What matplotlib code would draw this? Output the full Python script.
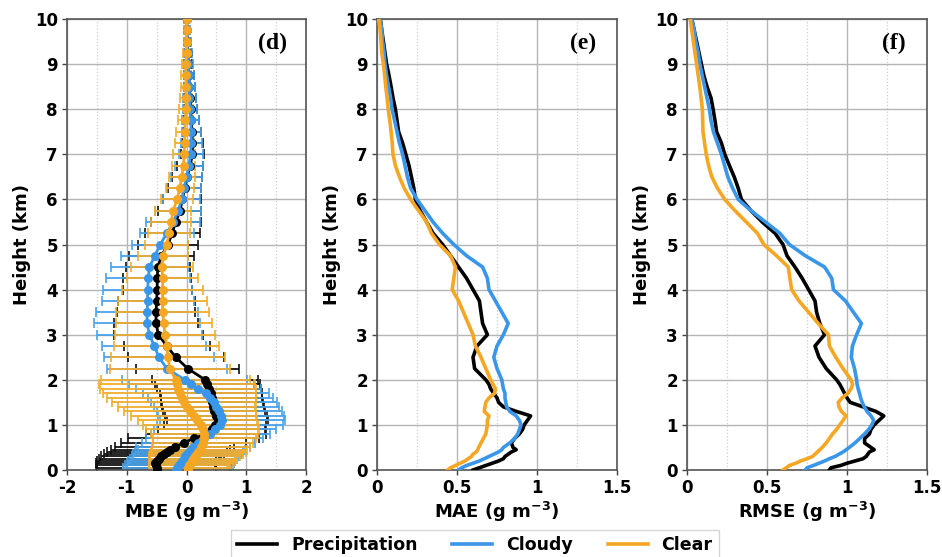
import matplotlib
matplotlib.use("Agg")
import matplotlib.pyplot as plt
from matplotlib.lines import Line2D
from matplotlib.ticker import MultipleLocator

plt.rcParams['font.family'] = ['DejaVu Sans']
plt.rcParams['axes.unicode_minus'] = False
plt.rcParams['mathtext.default'] = 'bf'

# Height levels (km)
heights = [0.0, 0.05, 0.1, 0.15, 0.2, 0.25, 0.3, 0.35, 0.4, 0.45, 0.5,
           0.6, 0.7, 0.8, 0.9, 1.0, 1.1, 1.2, 1.3, 1.4, 1.5, 1.6, 1.7, 1.8, 1.9, 2.0,
           2.25, 2.5, 2.75, 3.0, 3.25, 3.5, 3.75, 4.0, 4.25, 4.5, 4.75, 5.0,
           5.25, 5.5, 5.75, 6.0, 6.25, 6.5, 6.75, 7.0, 7.25, 7.5, 7.75, 8.0,
           8.25, 8.5, 8.75, 9.0, 9.25, 9.5, 9.75, 10.0]

categories = ['Precipitation', 'Cloudy', 'Clear']
colors = ['#000000', '#3a96e8', '#f5a623']
bar_colors = ['#111111', '#4aa3ea', '#f3ad2c']

# MBE (g m^-3)
mbe_precip = [-0.50, -0.50, -0.51, -0.52, -0.50, -0.46, -0.43, -0.38, -0.33, -0.27, -0.20,
              -0.05, 0.12, 0.33, 0.42, 0.48, 0.52, 0.49, 0.46, 0.44, 0.43, 0.42, 0.41, 0.38, 0.35, 0.31,
              0.02, -0.18, -0.33, -0.47, -0.51, -0.51, -0.50, -0.49, -0.49, -0.48, -0.42, -0.31,
              -0.24, -0.18, -0.11, -0.07, -0.03, 0.01, 0.06, 0.10, 0.10, 0.09, 0.08, 0.07,
              0.06, 0.05, 0.04, 0.03, 0.02, 0.01, 0.01, 0.00]
mbe_cloudy = [-0.17, -0.16, -0.13, -0.10, -0.08, -0.05, -0.02, 0.01, 0.04, 0.08, 0.11,
              0.20, 0.30, 0.40, 0.48, 0.56, 0.60, 0.58, 0.55, 0.50, 0.46, 0.40, 0.33, 0.20, 0.08, -0.03,
              -0.33, -0.46, -0.54, -0.62, -0.66, -0.66, -0.65, -0.65, -0.64, -0.62, -0.53, -0.44,
              -0.33, -0.22, -0.14, -0.08, -0.04, 0.00, 0.04, 0.07, 0.08, 0.08, 0.07, 0.06,
              0.05, 0.05, 0.04, 0.03, 0.02, 0.01, 0.01, 0.00]
mbe_clear = [0.02, 0.03, 0.05, 0.07, 0.09, 0.11, 0.14, 0.17, 0.20, 0.22, 0.24,
             0.28, 0.30, 0.30, 0.27, 0.24, 0.18, 0.12, 0.06, 0.00, -0.04, -0.08, -0.11, -0.14, -0.16, -0.18,
             -0.28, -0.31, -0.33, -0.36, -0.38, -0.40, -0.40, -0.40, -0.40, -0.41, -0.39, -0.33,
             -0.29, -0.26, -0.22, -0.16, -0.11, -0.08, -0.05, -0.04, -0.03, -0.03, -0.02, -0.01,
             -0.01, -0.01, -0.01, -0.01, 0.00, 0.00, 0.00, 0.00]

# Standard deviation of bias (error bars)
std_precip = [1.0, 1.0, 1.0, 1.0, 1.0, 1.0, 1.0, 1.0, 1.0, 1.0, 1.0,
              1.05, 1.1, 1.0, 0.9, 0.85, 0.85, 0.85, 0.85, 0.85, 0.85, 0.85, 0.85, 0.87, 0.88, 0.88,
              0.86, 0.80, 0.72, 0.74, 0.70, 0.66, 0.64, 0.58, 0.57, 0.54, 0.54, 0.50,
              0.46, 0.42, 0.36, 0.32, 0.28, 0.25, 0.22, 0.19, 0.17, 0.15, 0.13, 0.11,
              0.10, 0.09, 0.08, 0.07, 0.06, 0.05, 0.04, 0.03]
std_cloudy = [0.9, 0.9, 0.9, 0.9, 0.9, 0.9, 0.9, 0.9, 0.9, 0.9, 0.95,
              0.95, 0.98, 1.0, 1.02, 1.05, 1.05, 1.05, 1.05, 1.05, 1.05, 1.05, 1.05, 1.05, 1.05, 1.05,
              1.0, 0.92, 0.87, 0.88, 0.88, 0.85, 0.77, 0.74, 0.70, 0.65, 0.56, 0.47,
              0.45, 0.45, 0.38, 0.31, 0.28, 0.26, 0.23, 0.20, 0.18, 0.16, 0.14, 0.12,
              0.11, 0.10, 0.09, 0.08, 0.07, 0.06, 0.05, 0.04]
std_clear = [0.65, 0.66, 0.68, 0.70, 0.72, 0.74, 0.76, 0.78, 0.80, 0.80, 0.82,
             0.84, 0.86, 0.90, 0.94, 0.96, 1.0, 1.05, 1.1, 1.15, 1.2, 1.25, 1.28, 1.3, 1.3, 1.25,
             1.0, 0.95, 0.88, 0.84, 0.80, 0.78, 0.74, 0.68, 0.60, 0.52, 0.42, 0.36,
             0.35, 0.33, 0.30, 0.27, 0.24, 0.22, 0.20, 0.18, 0.16, 0.14, 0.13, 0.12,
             0.10, 0.09, 0.08, 0.07, 0.06, 0.05, 0.04, 0.03]

# MAE (g m^-3)
mae_precip = [0.60, 0.64, 0.68, 0.72, 0.76, 0.79, 0.80, 0.82, 0.84, 0.87, 0.85,
              0.84, 0.86, 0.89, 0.91, 0.92, 0.94, 0.96, 0.87, 0.79, 0.76, 0.75, 0.73, 0.71, 0.70, 0.68,
              0.61, 0.60, 0.625, 0.69, 0.66, 0.65, 0.64, 0.60, 0.56, 0.51, 0.46, 0.41,
              0.35, 0.31, 0.27, 0.24, 0.23, 0.215, 0.20, 0.18, 0.16, 0.135, 0.125, 0.115,
              0.10, 0.088, 0.075, 0.06, 0.05, 0.04, 0.03, 0.02]
mae_cloudy = [0.51, 0.53, 0.56, 0.60, 0.64, 0.67, 0.70, 0.73, 0.76, 0.78, 0.79,
              0.83, 0.86, 0.88, 0.89, 0.90, 0.89, 0.87, 0.83, 0.81, 0.805, 0.80, 0.80, 0.79, 0.785, 0.78,
              0.75, 0.73, 0.75, 0.79, 0.82, 0.78, 0.74, 0.70, 0.69, 0.66, 0.56, 0.48,
              0.41, 0.35, 0.30, 0.25, 0.21, 0.19, 0.175, 0.16, 0.14, 0.125, 0.11, 0.094,
              0.085, 0.072, 0.06, 0.05, 0.045, 0.035, 0.03, 0.02]
mae_clear = [0.44, 0.46, 0.49, 0.52, 0.55, 0.57, 0.59, 0.60, 0.62, 0.63, 0.635,
             0.65, 0.665, 0.68, 0.685, 0.69, 0.69, 0.70, 0.67, 0.675, 0.68, 0.70, 0.735, 0.74, 0.725, 0.71,
             0.68, 0.65, 0.615, 0.60, 0.57, 0.54, 0.51, 0.47, 0.48, 0.49, 0.46, 0.39,
             0.34, 0.31, 0.26, 0.21, 0.17, 0.14, 0.115, 0.10, 0.095, 0.088, 0.08, 0.07,
             0.063, 0.055, 0.048, 0.04, 0.03, 0.025, 0.02, 0.01]

# RMSE (g m^-3)
rmse_precip = [0.89, 0.90, 0.96, 1.0, 1.05, 1.10, 1.12, 1.13, 1.14, 1.17, 1.15,
               1.11, 1.11, 1.14, 1.15, 1.17, 1.20, 1.23, 1.18, 1.10, 1.02, 1.0, 0.985, 0.97, 0.955, 0.935,
               0.87, 0.825, 0.80, 0.86, 0.83, 0.81, 0.80, 0.76, 0.72, 0.675, 0.625, 0.60,
               0.55, 0.47, 0.40, 0.34, 0.32, 0.295, 0.265, 0.236, 0.215, 0.185, 0.175, 0.163,
               0.15, 0.125, 0.105, 0.09, 0.075, 0.06, 0.045, 0.03]
rmse_cloudy = [0.74, 0.75, 0.79, 0.825, 0.86, 0.89, 0.925, 0.95, 0.975, 0.995, 1.014,
               1.05, 1.08, 1.11, 1.136, 1.155, 1.167, 1.15, 1.125, 1.108, 1.095, 1.085, 1.078, 1.07, 1.063, 1.06,
               1.047, 1.027, 1.034, 1.06, 1.09, 1.04, 0.99, 0.915, 0.905, 0.86, 0.74, 0.64,
               0.58, 0.49, 0.40, 0.32, 0.285, 0.255, 0.235, 0.215, 0.19, 0.165, 0.15, 0.14,
               0.125, 0.11, 0.095, 0.08, 0.07, 0.055, 0.045, 0.03]
rmse_clear = [0.60, 0.62, 0.64, 0.68, 0.71, 0.75, 0.785, 0.80, 0.815, 0.83, 0.845,
              0.87, 0.89, 0.91, 0.935, 0.955, 0.975, 0.994, 0.965, 0.95, 0.945, 0.97, 1.005, 1.025, 1.035, 1.025,
              0.975, 0.93, 0.89, 0.884, 0.82, 0.76, 0.70, 0.654, 0.643, 0.633, 0.56, 0.48,
              0.44, 0.37, 0.30, 0.236, 0.19, 0.155, 0.135, 0.12, 0.11, 0.10, 0.098, 0.096,
              0.088, 0.08, 0.07, 0.06, 0.05, 0.04, 0.03, 0.02]

mbe = [mbe_precip, mbe_cloudy, mbe_clear]
std = [std_precip, std_cloudy, std_clear]
mae = [mae_precip, mae_cloudy, mae_clear]
rmse = [rmse_precip, rmse_cloudy, rmse_clear]

yticks = [0, 1, 2, 3, 4, 5, 6, 7, 8, 9, 10]
xticks_mbe = [-2, -1, 0, 1, 2]
xtick_labels_mbe = ['-2', '-1', '0', '1', '2']
xticks_err = [0, 0.5, 1, 1.5]
xtick_labels_err = ['0', '0.5', '1', '1.5']

fig = plt.figure(figsize=(9.42, 5.57), dpi=100)
W, H = 942, 557
def rect(l, r, t, b):
    return [l / W, 1 - b / H, (r - l) / W, (b - t) / H]

ax_d = fig.add_axes(rect(67, 306, 19, 470))
ax_e = fig.add_axes(rect(377, 617, 19, 470))
ax_f = fig.add_axes(rect(687, 927, 19, 470))

tick_fs = 12
label_fs = 13

def style(ax, xlim, xticks, xlabels, xminor, xlabel, tag):
    ax.set_xlim(*xlim)
    ax.set_ylim(0, 10)
    ax.set_xticks(xticks)
    ax.set_xticklabels(xlabels, fontweight='bold', fontsize=tick_fs)
    ax.set_yticks(yticks)
    ax.set_yticklabels([str(t) for t in yticks], fontweight='bold', fontsize=tick_fs)
    ax.xaxis.set_minor_locator(MultipleLocator(xminor))
    ax.grid(True, which='major', color='#b5b5b5', linewidth=1.0, zorder=0)
    ax.grid(True, which='minor', axis='x', color='#cfcfcf', linewidth=0.9, linestyle=':', zorder=0)
    ax.tick_params(axis='x', which='minor', length=0)
    ax.tick_params(which='major', length=3.5, width=1, color='#444444', pad=3)
    ax.set_axisbelow(True)
    for s in ax.spines.values():
        s.set_color('#555555')
        s.set_linewidth(1.2)
    ax.set_ylabel('Height (km)', fontweight='bold', fontsize=label_fs, labelpad=3)
    ax.set_xlabel(xlabel, fontweight='bold', fontsize=label_fs, labelpad=2)
    ax.text(0.86, 0.945, tag, transform=ax.transAxes, ha='center', va='center',
            fontsize=17, fontweight='bold', family='Liberation Serif')

# Panel (d): MBE with error bars
for m, s, bc in zip(mbe, std, bar_colors):
    ax_d.errorbar(m, heights, xerr=s, fmt='none', ecolor=bc, elinewidth=1.3,
                  capsize=3.5, capthick=1.2, zorder=2)
for m, c in zip(mbe, colors):
    ax_d.plot(m, heights, color=c, linewidth=2.0, marker='o', markersize=6.5,
              markeredgewidth=0, zorder=3)
style(ax_d, (-2, 2), xticks_mbe, xtick_labels_mbe, 0.5,
      r'MBE (g m$^{-3}$)', '(d)')

# Panel (e): MAE
for v, c in zip(mae, colors):
    ax_e.plot(v, heights, color=c, linewidth=2.6, zorder=3)
style(ax_e, (0, 1.5), xticks_err, xtick_labels_err, 0.25,
      r'MAE (g m$^{-3}$)', '(e)')

# Panel (f): RMSE
for v, c in zip(rmse, colors):
    ax_f.plot(v, heights, color=c, linewidth=2.6, zorder=3)
style(ax_f, (0, 1.5), xticks_err, xtick_labels_err, 0.25,
      r'RMSE (g m$^{-3}$)', '(f)')

handles = [Line2D([0], [0], color=c, linewidth=2.6) for c in colors]
leg = fig.legend(handles, categories, loc='upper center', ncol=3,
                 bbox_to_anchor=(475 / W, 1 - 530 / H), frameon=True,
                 prop={'weight': 'bold', 'size': 12.5}, columnspacing=2.0,
                 handlelength=2.3, borderpad=0.35, borderaxespad=0, fancybox=False)
leg.get_frame().set_edgecolor('#cccccc')

fig.savefig('out.png', dpi=100)
